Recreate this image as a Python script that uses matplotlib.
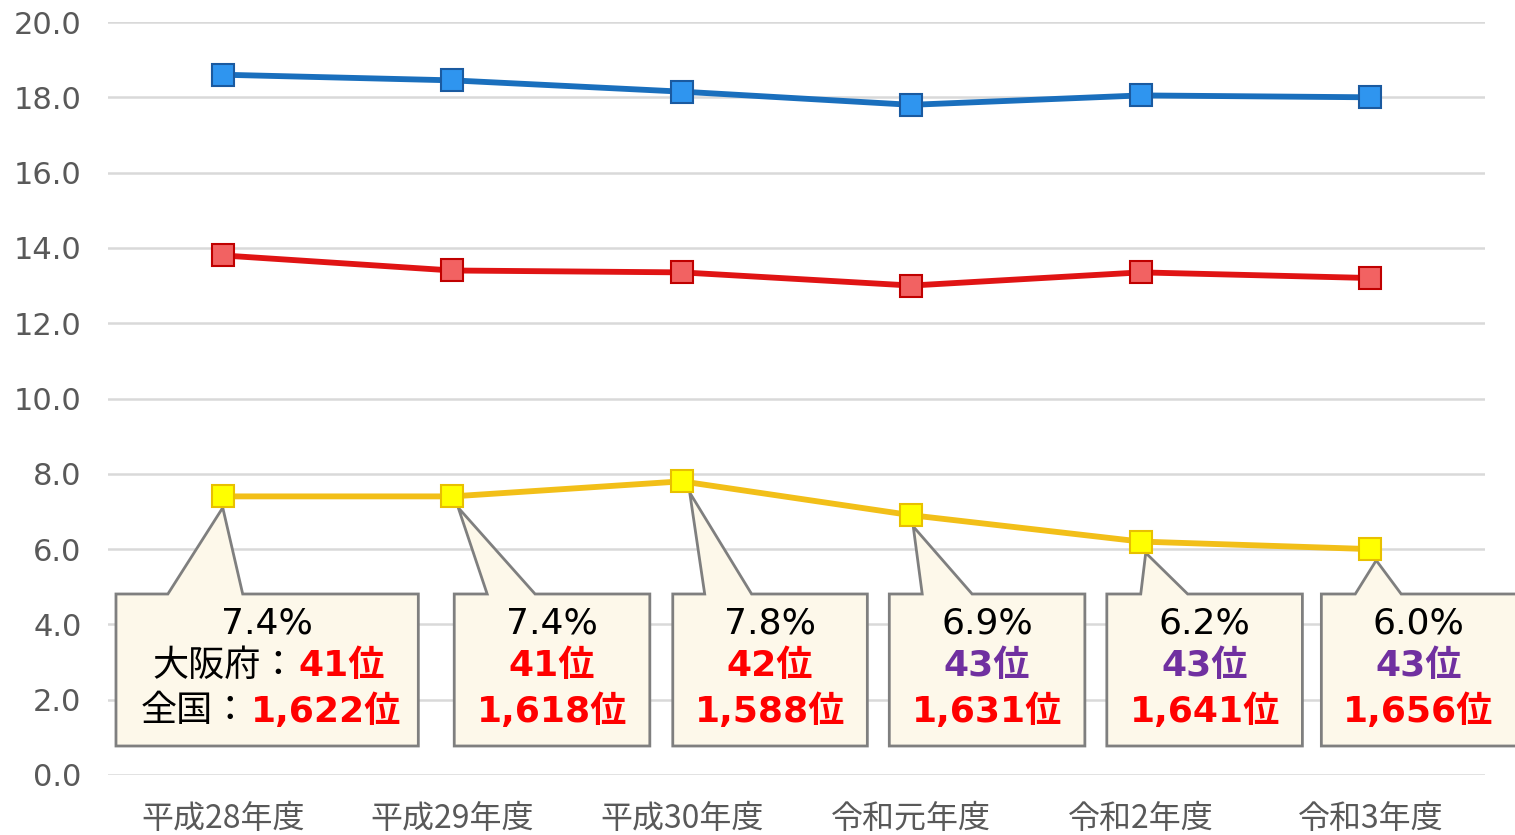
import matplotlib
matplotlib.use('Agg')
import matplotlib.pyplot as plt
from matplotlib.patches import Polygon

plt.rcParams['font.family'] = ['Noto Sans CJK JP', 'DejaVu Sans']
BOX_FONT = ['DejaVu Sans', 'Noto Sans CJK JP']

# data
years = ['平成28年度', '平成29年度', '平成30年度', '令和元年度', '令和2年度', '令和3年度']
blue_vals = [18.6, 18.45, 18.15, 17.8, 18.05, 18.0]
red_vals = [13.8, 13.4, 13.35, 13.0, 13.35, 13.2]
yellow_vals = [7.4, 7.4, 7.8, 6.9, 6.2, 6.0]
pct_labels = ['7.4%', '7.4%', '7.8%', '6.9%', '6.2%', '6.0%']
pref_ranks = ['41位', '41位', '42位', '43位', '43位', '43位']
pref_colors = ['#ff0000', '#ff0000', '#ff0000', '#7030a0', '#7030a0', '#7030a0']
nat_ranks = ['1,622位', '1,618位', '1,588位', '1,631位', '1,641位', '1,656位']

# callout geometry in pixels: box left, box right, pointer base left/right, tip x
callouts_px = [
    (115, 418, 167, 242, 222),
    (454, 650, 487, 535, 458),
    (673, 868, 705, 752, 690),
    (890, 1086, 923, 973, 914),
    (1108, 1304, 1142, 1189, 1147),
    (1323, 1525, 1357, 1403, 1378),
]


def px_x(p):
    return (p - 222) / 230.0


def px_y(p):
    return (775 - p) / 37.65


fig = plt.figure(figsize=(15.15, 8.35), dpi=100)
ax = fig.add_axes([108 / 1515, 60 / 835, 1377 / 1515, 753 / 835])
x = list(range(len(years)))

for v in range(0, 21, 2):
    ax.axhline(v, color='#d9d9d9', lw=1.8, zorder=0)

ax.plot(x, blue_vals, color='#1a6fbd', lw=4.2, marker='s', ms=15.5,
        mfc='#2f95ef', mec='#1a5aa0', mew=1.5, zorder=3)
ax.plot(x, red_vals, color='#e01414', lw=4.2, marker='s', ms=15.5,
        mfc='#f26262', mec='#c00000', mew=1.5, zorder=3)
ax.plot(x, yellow_vals, color='#f2bf18', lw=4.2, marker='s', ms=15.5,
        mfc='#ffff00', mec='#e8c000', mew=1.5, zorder=5)

box_top = px_y(594)
box_bot = px_y(746)
for i, (bl, br, pl, pr, tx) in enumerate(callouts_px):
    pts = [(px_x(bl), box_bot), (px_x(bl), box_top), (px_x(pl), box_top),
           (px_x(tx), yellow_vals[i] - 0.3), (px_x(pr), box_top),
           (px_x(br), box_top), (px_x(br), box_bot)]
    ax.add_patch(Polygon(pts, closed=True, fc='#fdf8ea', ec='#7f7f7f',
                         lw=2, zorder=4, clip_on=False))
    cx = px_x((bl + min(br, 1517)) / 2.0)
    ax.text(cx, px_y(623), pct_labels[i], ha='center', va='center',
            fontsize=26, color='black', zorder=6, clip_on=False,
            family=BOX_FONT)
    if i == 0:
        ax.text(px_x(296), px_y(666), '大阪府：', ha='right', va='center',
                fontsize=26, color='black', zorder=6, family=BOX_FONT)
        ax.text(px_x(298), px_y(666), pref_ranks[i], ha='left', va='center',
                fontsize=26, color=pref_colors[i], fontweight='bold',
                zorder=6, family=BOX_FONT)
        ax.text(px_x(248), px_y(711), '全国：', ha='right', va='center',
                fontsize=26, color='black', zorder=6, family=BOX_FONT)
        ax.text(px_x(250), px_y(711), nat_ranks[i], ha='left', va='center',
                fontsize=26, color='#ff0000', fontweight='bold', zorder=6,
                family=BOX_FONT)
    else:
        ax.text(cx, px_y(666), pref_ranks[i], ha='center', va='center',
                fontsize=26, color=pref_colors[i], fontweight='bold',
                zorder=6, clip_on=False, family=BOX_FONT)
        ax.text(cx, px_y(711), nat_ranks[i], ha='center', va='center',
                fontsize=26, color='#ff0000', fontweight='bold', zorder=6,
                clip_on=False, family=BOX_FONT)

ax.set_xlim(-0.5, 5.5)
ax.set_ylim(0, 20)
ax.set_yticks(range(0, 21, 2))
ax.set_yticklabels(['%.1f' % v for v in range(0, 21, 2)], family='DejaVu Sans',
                   fontsize=22, color='#595959')
ax.set_xticks(x)
ax.set_xticklabels(years, fontsize=23, color='#595959')
ax.tick_params(axis='both', length=0)
ax.tick_params(axis='y', pad=19)
ax.tick_params(axis='x', pad=20)
for s in ax.spines.values():
    s.set_visible(False)

fig.savefig('out.png', dpi=100, facecolor='white')
